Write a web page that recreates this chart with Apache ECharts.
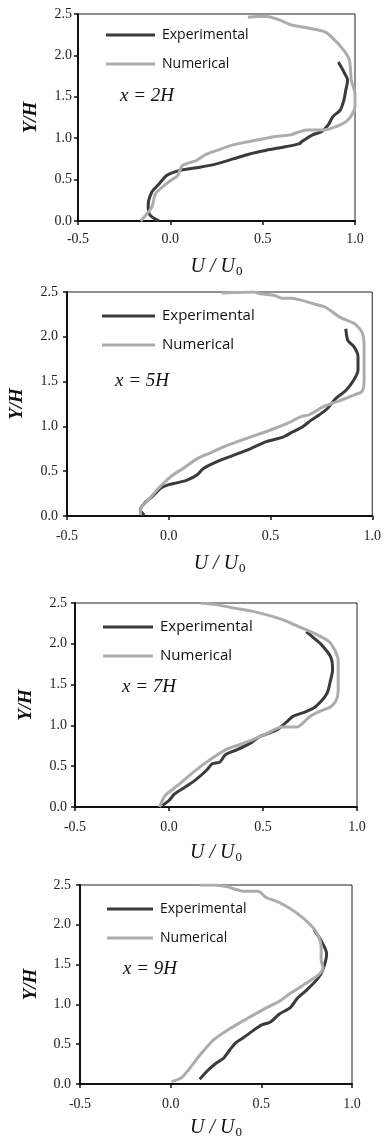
<!DOCTYPE html>
<html>
<head>
<meta charset="utf-8">
<script src="https://cdn.jsdelivr.net/npm/echarts@6/dist/echarts.min.js"></script>
<style>
  html, body { margin: 0; background: #fff; }
  #chart { width: 384px; height: 1140px; }
</style>
</head>
<body>
<div id="chart"></div>
<script>
// velocity profiles U/U0 against Y/H, one panel per station
const stations = ['x = 2H', 'x = 5H', 'x = 7H', 'x = 9H'];
const seriesNames = ['Experimental', 'Numerical'];

const exp2H = [[-0.06,0.0],[-0.11,0.07],[-0.12,0.19],[-0.10,0.35],[-0.06,0.45],[-0.02,0.55],[0.05,0.61],[0.16,0.65],[0.25,0.69],[0.34,0.75],[0.43,0.81],[0.52,0.855],[0.63,0.90],[0.70,0.935],[0.71,0.955],[0.77,1.04],[0.82,1.08],[0.855,1.16],[0.88,1.26],[0.92,1.34],[0.94,1.46],[0.95,1.58],[0.96,1.70],[0.94,1.80],[0.91,1.92]];
const num2H = [[-0.16,0.0],[-0.10,0.17],[-0.08,0.33],[-0.01,0.47],[0.04,0.55],[0.065,0.67],[0.14,0.73],[0.19,0.80],[0.25,0.85],[0.34,0.92],[0.43,0.96],[0.52,1.0],[0.57,1.02],[0.65,1.04],[0.74,1.10],[0.83,1.10],[0.92,1.16],[0.97,1.24],[1.0,1.38],[1.0,1.54],[0.98,1.70],[0.97,1.94],[0.94,2.06],[0.87,2.23],[0.83,2.29],[0.70,2.35],[0.65,2.37],[0.59,2.43],[0.52,2.47],[0.47,2.47],[0.42,2.46]];

const exp5H = [[-0.12,0.01],[-0.14,0.07],[-0.12,0.14],[-0.08,0.22],[-0.04,0.31],[0.0,0.35],[0.04,0.37],[0.09,0.40],[0.14,0.46],[0.17,0.53],[0.24,0.61],[0.32,0.68],[0.40,0.75],[0.48,0.83],[0.56,0.88],[0.61,0.94],[0.66,1.0],[0.70,1.07],[0.74,1.13],[0.78,1.20],[0.82,1.31],[0.87,1.40],[0.91,1.52],[0.93,1.63],[0.93,1.78],[0.91,1.89],[0.88,1.96],[0.87,2.09]];
const num5H = [[-0.14,0.01],[-0.135,0.10],[-0.10,0.18],[-0.05,0.31],[0.01,0.44],[0.07,0.53],[0.14,0.64],[0.20,0.70],[0.29,0.79],[0.40,0.88],[0.50,0.96],[0.58,1.03],[0.65,1.11],[0.69,1.13],[0.76,1.22],[0.82,1.27],[0.91,1.35],[0.95,1.39],[0.96,1.52],[0.96,1.89],[0.95,2.05],[0.91,2.15],[0.84,2.22],[0.77,2.33],[0.71,2.37],[0.60,2.43],[0.56,2.43],[0.52,2.46],[0.45,2.48],[0.42,2.50],[0.26,2.49]];

const exp7H = [[-0.035,0.02],[0.0,0.08],[0.03,0.16],[0.09,0.25],[0.14,0.33],[0.20,0.45],[0.23,0.53],[0.27,0.55],[0.30,0.64],[0.36,0.70],[0.43,0.78],[0.48,0.86],[0.57,0.94],[0.62,1.03],[0.66,1.11],[0.73,1.17],[0.78,1.23],[0.84,1.39],[0.86,1.56],[0.87,1.68],[0.86,1.84],[0.81,1.99],[0.76,2.09],[0.73,2.15]];
const num7H = [[-0.05,0.0],[-0.02,0.14],[0.05,0.27],[0.12,0.41],[0.20,0.55],[0.30,0.70],[0.37,0.76],[0.44,0.82],[0.52,0.90],[0.60,0.98],[0.68,0.98],[0.75,1.11],[0.80,1.17],[0.86,1.23],[0.89,1.31],[0.90,1.43],[0.90,1.80],[0.88,1.93],[0.85,2.03],[0.77,2.13],[0.69,2.21],[0.60,2.30],[0.44,2.40],[0.34,2.44],[0.25,2.48],[0.17,2.50]];

const exp9H = [[0.16,0.06],[0.20,0.16],[0.25,0.26],[0.29,0.32],[0.33,0.44],[0.36,0.52],[0.40,0.58],[0.46,0.68],[0.50,0.74],[0.55,0.78],[0.60,0.88],[0.66,0.96],[0.70,1.08],[0.75,1.18],[0.81,1.32],[0.84,1.44],[0.86,1.64],[0.83,1.80],[0.79,1.94]];
const num9H = [[0.005,0.03],[0.06,0.08],[0.12,0.24],[0.16,0.36],[0.24,0.56],[0.33,0.70],[0.42,0.82],[0.53,0.96],[0.60,1.04],[0.66,1.14],[0.73,1.24],[0.81,1.36],[0.84,1.46],[0.83,1.56],[0.83,1.72],[0.81,1.88],[0.77,2.0],[0.70,2.14],[0.60,2.28],[0.53,2.34],[0.48,2.42],[0.41,2.42],[0.35,2.45],[0.31,2.48],[0.24,2.50],[0.16,2.50]];

const expData = [exp2H, exp5H, exp7H, exp9H];
const numData = [num2H, num5H, num7H, num9H];

// panel layout (px)
const panels = [
  { left: 78, top: 14,  width: 277, height: 207, lab: 11, ylab: 6, xGap: 34, yGap: 37, legX: 106, legY: 35,  legW: 49, legFont: 14, noteX: 120, noteY: 97 },
  { left: 64, top: 292, width: 309, height: 224, lab: 13, ylab: 9, xGap: 36, yGap: 40, legX: 102, legY: 316, legW: 53, legFont: 15, noteX: 115, noteY: 382 },
  { left: 75, top: 603, width: 282, height: 204, lab: 13, ylab: 8, xGap: 34, yGap: 39, legX: 103, legY: 627, legW: 50, legFont: 15, noteX: 122, noteY: 688 },
  { left: 80, top: 885, width: 272, height: 208, lab: 13, ylab: 9, xGap: 32, yGap: 39, legX: 107, legY: 909, legW: 46, legFont: 14, noteX: 123, noteY: 970 }
];

const serif = '"Liberation Serif", "DejaVu Serif", serif';
const darkColor = '#3b3b3b';
const lightColor = '#acacac';

const grid = [], xAxis = [], yAxis = [], series = [], legend = [], graphic = [];

panels.forEach((p, i) => {
  grid.push({
    left: p.left, top: p.top, width: p.width, height: p.height,
    show: true, borderColor: '#222', borderWidth: 1, backgroundColor: 'transparent'
  });
  xAxis.push({
    gridIndex: i, type: 'value', min: -0.5, max: 1.0, interval: 0.5,
    name: '{i|U / U}{s|0}', nameLocation: 'middle', nameGap: p.xGap,
    nameTextStyle: {
      rich: {
        i: { fontFamily: serif, fontStyle: 'italic', fontSize: 20, color: '#111' },
        s: { fontFamily: serif, fontSize: 13, color: '#111', padding: [10, 0, 0, 1] }
      }
    },
    axisLine: { onZero: false, lineStyle: { color: '#111', width: 2 } },
    axisTick: { length: 4, lineStyle: { color: '#111', width: 1.5 } },
    axisLabel: { margin: p.lab, fontFamily: serif, fontSize: 14, color: '#222',
      formatter: v => v.toFixed(1) },
    splitLine: { show: false }
  });
  yAxis.push({
    gridIndex: i, type: 'value', min: 0, max: 2.5, interval: 0.5,
    name: 'Y/H', nameLocation: 'middle', nameGap: p.yGap,
    nameTextStyle: { fontFamily: serif, fontStyle: 'italic', fontWeight: 'bold', fontSize: 19, color: '#111' },
    axisLine: { onZero: false, lineStyle: { color: '#111', width: 2 } },
    axisTick: { length: 4, lineStyle: { color: '#111', width: 1.5 } },
    axisLabel: { margin: p.ylab, fontFamily: serif, fontSize: 14, color: '#222',
      formatter: v => v.toFixed(1) },
    splitLine: { show: false }
  });
  series.push({
    name: seriesNames[0], type: 'line', xAxisIndex: i, yAxisIndex: i,
    data: expData[i], showSymbol: false, symbol: 'none', smooth: 0.25,
    itemStyle: { color: darkColor },
    lineStyle: { color: darkColor, width: 3 }
  });
  series.push({
    name: seriesNames[1], type: 'line', xAxisIndex: i, yAxisIndex: i,
    data: numData[i], showSymbol: false, symbol: 'none', smooth: 0.25,
    itemStyle: { color: lightColor },
    lineStyle: { color: lightColor, width: 3 }
  });
  legend.push({
    data: seriesNames, orient: 'vertical', icon: 'rect',
    left: p.legX, top: p.legY - 8, padding: 0,
    itemWidth: p.legW, itemHeight: 3, itemGap: 13,
    selectedMode: false,
    textStyle: { fontFamily: '"Open Sans", sans-serif', fontSize: p.legFont, color: '#111',
      lineHeight: 16, padding: [0, 0, 0, 2] }
  });
  graphic.push({
    type: 'text', left: p.noteX, top: p.noteY - 11,
    style: { text: stations[i], font: 'italic 19px ' + serif, fill: '#111' }
  });
});

const chart = echarts.init(document.getElementById('chart'));
chart.setOption({
  animation: false,
  backgroundColor: '#fff',
  grid, xAxis, yAxis, series, legend, graphic
});
</script>
</body>
</html>
